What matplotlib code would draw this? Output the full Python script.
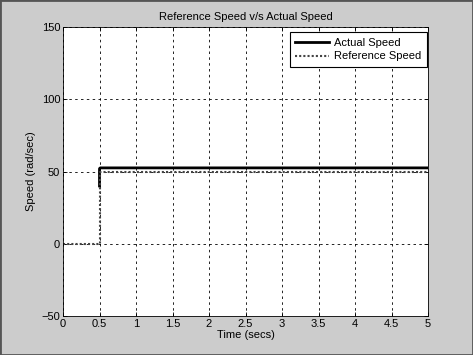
import numpy as np
import matplotlib.pyplot as plt

# data
t_ref = [0, 0.5, 0.5, 5]
w_ref = [0, 0, 50, 50]
t_act = [0.5, 0.5, 0.51, 5]
w_act = [40, 52, 52.5, 52.5]

xticks = [0, 0.5, 1, 1.5, 2, 2.5, 3, 3.5, 4, 4.5, 5]
xlabels = ['0', '0.5', '1', '1.5', '2', '2.5', '3', '3.5', '4', '4.5', '5']
yticks = [-50, 0, 50, 100, 150]

plt.rcParams['font.family'] = ['Liberation Sans', 'DejaVu Sans']
plt.rcParams['font.size'] = 8

fig = plt.figure(figsize=(4.73, 3.55), dpi=100, facecolor='#cccccc')
ax = fig.add_axes([63/473, 1 - 316/355, (428-63)/473, (316-27)/355])

ax.plot(t_act, w_act, color='black', lw=2, label='Actual Speed')
ax.plot(t_ref, w_ref, color='#444444', lw=1.5, ls=(0, (1, 1)), label='Reference Speed')

ax.set_xlim(0, 5)
ax.set_ylim(-50, 150)
ax.set_xticks(xticks)
ax.set_xticklabels(xlabels)
ax.set_yticks(yticks)
ax.grid(True, color='black', ls=(0, (3, 4)), lw=0.6)
ax.tick_params(direction='in', length=3, width=0.6, color='black', pad=2,
               top=True, right=True)
for s in ax.spines.values():
    s.set_linewidth(0.6)

ax.set_title('Reference Speed v/s Actual Speed', fontsize=8, pad=5)
ax.set_xlabel('Time (secs)', labelpad=1)
ax.set_ylabel('Speed (rad/sec)', labelpad=4)

leg = ax.legend(loc='upper right', bbox_to_anchor=(427/473, 1 - 32/355),
                bbox_transform=fig.transFigure, borderaxespad=0,
                fancybox=False, framealpha=1, edgecolor='black',
                handlelength=3.0, handletextpad=0.5, fontsize=8,
                borderpad=0.5, labelspacing=0.35)
leg.get_frame().set_linewidth(0.8)

fig.patches.append(plt.Rectangle((0, 0), 1, 1, transform=fig.transFigure,
                                 fill=False, edgecolor='#555555', lw=2))

fig.savefig('out.png', dpi=100, facecolor=fig.get_facecolor())
